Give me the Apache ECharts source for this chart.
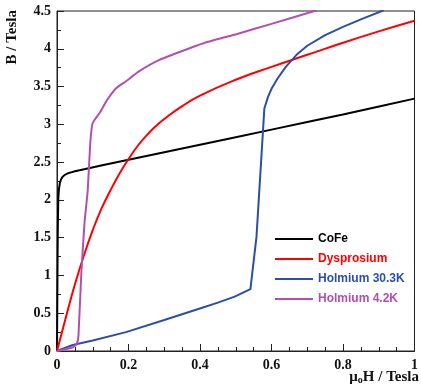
<!DOCTYPE html>
<html><head><meta charset="utf-8">
<script src="https://cdn.jsdelivr.net/npm/echarts@6/dist/echarts.min.js"></script>
<style>html,body{margin:0;padding:0;background:#fff}#c{width:421px;height:391px}</style>
</head><body><div id="c"></div>
<script>
const xTicks = [0, 0.2, 0.4, 0.6, 0.8, 1];
const yTicks = [0, 0.5, 1, 1.5, 2, 2.5, 3, 3.5, 4, 4.5];
const seriesNames = ['CoFe', 'Dysprosium', 'Holmium 30.3K', 'Holmium 4.2K'];
const cofe = [[0,0],[0.002,1.5],[0.004,2.05],[0.008,2.22],[0.015,2.3],[0.03,2.35],[0.06,2.39],[0.2,2.53],[0.4,2.73],[0.6,2.93],[0.8,3.13],[1,3.34]];
const dysprosium = [[0,0],[0.025,0.45],[0.05,0.88],[0.075,1.26],[0.1,1.6],[0.125,1.89],[0.15,2.13],[0.175,2.35],[0.2,2.54],[0.225,2.71],[0.25,2.85],[0.275,2.97],[0.3,3.07],[0.35,3.24],[0.4,3.38],[0.5,3.59],[0.6,3.76],[0.7,3.92],[0.8,4.08],[0.9,4.23],[1,4.37]];
const holmium30 = [[0,0],[0.044,0.08],[0.1,0.14],[0.193,0.25],[0.3,0.41],[0.404,0.57],[0.45,0.64],[0.497,0.72],[0.541,0.82],[0.558,1.51],[0.58,3.21],[0.59,3.36],[0.6,3.47],[0.616,3.6],[0.64,3.76],[0.67,3.92],[0.7,4.04],[0.75,4.18],[0.8,4.29],[0.85,4.39],[0.914,4.51]];
const holmium42 = [[0,0],[0.02,0.02],[0.045,0.05],[0.055,0.09],[0.06,0.2],[0.068,1.03],[0.077,1.7],[0.086,2.13],[0.093,2.75],[0.1,3.02],[0.119,3.15],[0.14,3.32],[0.166,3.48],[0.193,3.57],[0.229,3.7],[0.285,3.85],[0.367,4.0],[0.42,4.09],[0.506,4.2],[0.6,4.33],[0.727,4.51]];
const colors = ['#000000', '#ff0000', '#2c4fa6', '#b44fb1'];
const smoothness = [0.15, 0.5, 0, 0.15];

const chart = echarts.init(document.getElementById('c'), null, {renderer: 'canvas'});
const serif = '"Liberation Serif", "Times New Roman", serif';
const datasets = [cofe, dysprosium, holmium30, holmium42];
chart.setOption({
  animation: false,
  backgroundColor: '#fff',
  grid: {left: 57, right: 1, top: 11, bottom: 40, show: true, borderColor: '#222', borderWidth: 1, backgroundColor: 'transparent'},
  xAxis: {
    type: 'value', min: 0, max: 1, interval: 0.2,
    axisLine: {lineStyle: {color: '#222', width: 1}},
    axisTick: {inside: true, length: 7, lineStyle: {color: '#222'}},
    minorTick: {show: true, splitNumber: 4, length: 4, lineStyle: {color: '#222'}},
    splitLine: {show: false},
    axisLabel: {margin: 7, color: '#111', fontFamily: serif, fontWeight: 'bold', fontSize: 14,
      formatter: v => xTicks.includes(+v.toFixed(2)) ? String(+v.toFixed(2)) : ''}
  },
  yAxis: {
    type: 'value', min: 0, max: 4.5, interval: 0.5,
    axisLine: {show: true, lineStyle: {color: '#222', width: 1}},
    axisTick: {show: true, inside: true, length: 7, lineStyle: {color: '#222'}},
    minorTick: {show: true, splitNumber: 2, length: 4, lineStyle: {color: '#222'}},
    splitLine: {show: false},
    axisLabel: {margin: 6, color: '#111', fontFamily: serif, fontWeight: 'bold', fontSize: 14,
      formatter: v => yTicks.includes(+v.toFixed(2)) ? String(+v.toFixed(2)) : ''}
  },
  legend: {
    orient: 'vertical', left: 270, top: 228, itemWidth: 38, itemHeight: 2, itemGap: 8,
    icon: 'rect',
    textStyle: {fontFamily: '"Liberation Sans", Arial, sans-serif', fontWeight: 'bold', fontSize: 12},
    data: seriesNames.map((n, i) => ({name: n, textStyle: {color: colors[i]}}))
  },
  series: seriesNames.map((n, i) => ({
    name: n, type: 'line', data: datasets[i], showSymbol: false, symbol: 'none',
    smooth: smoothness[i] || false, clip: true,
    lineStyle: {color: colors[i], width: 2}, itemStyle: {color: colors[i]}
  })),
  graphic: [
    {type: 'text', x: 5, y: 10, rotation: Math.PI / 2, originX: 0, originY: 0,
      style: {text: 'B / Tesla', font: 'bold 15px ' + serif, fill: '#111', align: 'right', verticalAlign: 'top'}},
    {type: 'text', right: 2, top: 370,
      style: {text: '{a|μ}{b|o}{a|H / Tesla}', fill: '#111',
        rich: {a: {font: 'bold 15px ' + serif, fill: '#111'}, b: {font: 'bold 10px ' + serif, fill: '#111', verticalAlign: 'bottom', padding: [6,0,0,0]}}}}
  ]
});
</script></body></html>
